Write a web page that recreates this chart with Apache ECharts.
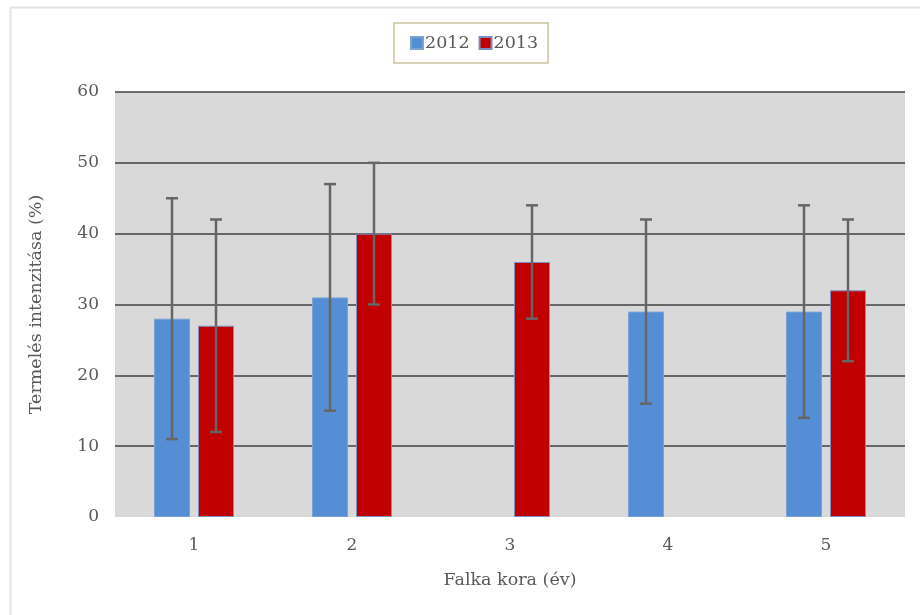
<!DOCTYPE html>
<html><head><meta charset="utf-8">
<script src="https://cdn.jsdelivr.net/npm/echarts@6/dist/echarts.min.js"></script>
<style>html,body{margin:0;padding:0;background:#fff}#c{width:920px;height:615px}</style>
</head><body><div id="c"></div>
<script>
const categories = ['1','2','3','4','5'];
const seriesNames = ['2012','2013'];
const values2012 = [28, 31, '-', 29, 29];
const values2013 = [27, 40, 36, '-', 32];
const errLow2012 = [11, 15, null, 16, 14];
const errHigh2012 = [45, 47, null, 42, 44];
const errLow2013 = [12, 30, 28, null, 22];
const errHigh2013 = [42, 50, 44, null, 42];
const yTicks = [0, 10, 20, 30, 40, 50, 60];

const FONT = 'DejaVu Serif';
const TXT = '#595959';
const BAR_W = 36, BAR_GAP = 8;
const colors = ['#558ed5', '#c00000'];

function errData(lo, hi) {
  const out = [];
  lo.forEach((v, i) => { if (v !== null) out.push([i, lo[i], hi[i]]); });
  return out;
}
function errSeries(lo, hi, sIdx) {
  const offset = (sIdx === 0 ? -1 : 1) * (BAR_W + BAR_GAP) / 2;
  return {
    type: 'custom', z: 10, silent: true,
    renderItem: function (params, api) {
      const x = api.value(0);
      const pLo = api.coord([x, api.value(1)]);
      const pHi = api.coord([x, api.value(2)]);
      const cx = pLo[0] + offset;
      const cap = 6;
      const st = { stroke: '#666666', lineWidth: 2.5 };
      return { type: 'group', children: [
        { type: 'line', shape: { x1: cx, y1: pHi[1], x2: cx, y2: pLo[1] }, style: st },
        { type: 'line', shape: { x1: cx - cap, y1: pHi[1], x2: cx + cap, y2: pHi[1] }, style: st },
        { type: 'line', shape: { x1: cx - cap, y1: pLo[1], x2: cx + cap, y2: pLo[1] }, style: st }
      ]};
    },
    data: errData(lo, hi)
  };
}

const gridColors = yTicks.map(v => v === 0 ? 'rgba(0,0,0,0)' : '#404040');

const chart = echarts.init(document.getElementById('c'));
chart.setOption({
  animation: false,
  graphic: [{ type: 'rect', left: 8, top: 5, shape: { width: 940, height: 640 }, style: { fill: 'none', stroke: '#e3e3e3', lineWidth: 2 }, z: -10 }],
  legend: {
    data: seriesNames, left: 394, top: 23, orient: 'horizontal',
    padding: [11, 10, 11, 16], itemWidth: 12, itemHeight: 12, itemGap: 9,
    borderColor: '#c9c29f', borderWidth: 1.5,
    textStyle: { fontFamily: FONT, fontSize: 17.5, color: TXT, padding: [0, 0, 0, -3] },
    icon: 'rect'
  },
  grid: { left: 115, right: 15, top: 92, bottom: 98, show: true, backgroundColor: '#d9d9d9', borderWidth: 0 },
  xAxis: {
    type: 'category', data: categories,
    axisLine: { show: false }, axisTick: { show: false },
    axisLabel: { fontFamily: FONT, fontSize: 17, color: TXT, margin: 20 },
    name: 'Falka kora (év)', nameLocation: 'middle', nameGap: 54,
    nameTextStyle: { fontFamily: FONT, fontSize: 17.5, color: TXT }
  },
  yAxis: {
    type: 'value', min: 0, max: 60, interval: 10,
    axisLine: { show: false }, axisTick: { show: false },
    axisLabel: { fontFamily: FONT, fontSize: 17, color: TXT, margin: 16,
      formatter: v => yTicks.includes(v) ? String(v) : '' },
    splitLine: { lineStyle: { color: gridColors, width: 1.5 } },
    name: 'Termelés intenzitása (%)', nameLocation: 'middle', nameGap: 70,
    nameTextStyle: { fontFamily: FONT, fontSize: 17.5, color: TXT }
  },
  series: [
    { name: seriesNames[0], type: 'bar', data: values2012, barWidth: BAR_W, barGap: (BAR_GAP / BAR_W * 100) + '%',
      itemStyle: { color: colors[0], borderColor: '#7da2d6', borderWidth: 1 } },
    { name: seriesNames[1], type: 'bar', data: values2013, barWidth: BAR_W,
      itemStyle: { color: colors[1], borderColor: '#7d8fc0', borderWidth: 1 } },
    errSeries(errLow2012, errHigh2012, 0),
    errSeries(errLow2013, errHigh2013, 1)
  ]
});
</script></body></html>
